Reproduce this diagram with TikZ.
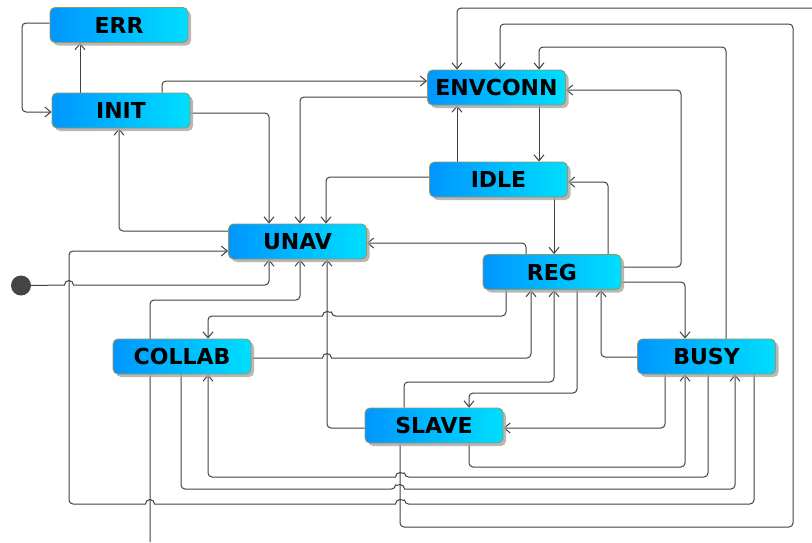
\documentclass[tikz,border=0pt]{standalone}
\usepackage{fontspec}
\setmainfont{DejaVu Sans}
\usetikzlibrary{arrows.meta,shadows,backgrounds}
\definecolor{stateL}{RGB}{0,150,255}
\definecolor{stateR}{RGB}{0,222,255}
\definecolor{stateBorder}{RGB}{155,150,95}
\definecolor{wire}{RGB}{65,65,65}
\definecolor{dotfill}{RGB}{68,68,68}

\begin{document}
\begin{tikzpicture}[x=1pt,y=-1pt,
  state/.style={rectangle, rounded corners=5pt, draw=stateBorder, line width=0.9pt,
    left color=stateL, right color=stateR, minimum width=138pt, minimum height=35pt,
    inner sep=0pt, font=\fontsize{22}{26}\selectfont\bfseries, text=black,
    drop shadow={shadow xshift=3pt, shadow yshift=-3pt, fill=black!35, opacity=0.8}},
  link/.style={draw=wire, line width=1pt, rounded corners=4pt,
    -{Straight Barb[length=6pt,width=10pt]}},
  ]
\useasboundingbox (0,0) rectangle (812,542);

% states
\node[state] (ERR)     at (119,25)    {ERR};
\node[state] (INIT)    at (121,110.5) {INIT};
\node[state] (ENVCONN) at (496.5,87.5) {ENVCONN};
\node[state] (IDLE)    at (498.5,179.5) {IDLE};
\node[state] (UNAV)    at (297.5,241.5) {UNAV};
\node[state] (REG)     at (552,272)   {REG};
\node[state] (COLLAB)  at (182,356.5) {COLLAB};
\node[state] (BUSY)    at (706.5,356.5) {BUSY};
\node[state] (SLAVE)   at (434,425.5) {SLAVE};
\node[circle, fill=dotfill, minimum size=20pt, inner sep=0pt] (start) at (21,285.5) {};

% transitions entering from outside the frame
\coordinate (offR) at (812,8);
\coordinate (offB) at (150,542);

\begin{pgfonlayer}{background}
\draw[link] (ERR.west |- 0,23) -- (22,23) -- (22,112) -- (INIT.west |- 0,112);
\draw[link] (INIT.north -| 80,0) -- (ERR.south -| 80,0);
\draw[link] (INIT.north -| 162,0) |- (ENVCONN.west |- 0,81);
\draw[link] (INIT.east |- 0,113) -| (UNAV.north -| 269,0);
\draw[link] (UNAV.west |- 0,231) -| (INIT.south -| 119,0);
\draw[link] (ENVCONN.west |- 0,97) -| (UNAV.north -| 300,0);
\draw[link] (IDLE.west |- 0,177) -| (UNAV.north -| 326,0);
\draw[link] (ENVCONN.south -| 539,0) -- (IDLE.north -| 539,0);
\draw[link] (IDLE.north -| 457,0) -- (ENVCONN.south -| 457,0);
\draw[link] (IDLE.south -| 554,0) -- (REG.north -| 554,0);
\draw[link] (REG.north -| 526,0) |- (UNAV.east |- 0,243);
\draw[link] (REG.north -| 608,0) |- (IDLE.east |- 0,182);
\draw[link] (REG.east |- 0,267) -- (681,267) -- (681,90) -- (ENVCONN.east |- 0,90);
\draw[link] (REG.east |- 0,282) -| (BUSY.north -| 685,0);
\draw[link] (BUSY.west |- 0,357) -| (REG.south -| 601,0);
\draw[link] (BUSY.north -| 726,0) -- (726,47) -- (539,47) -- (ENVCONN.north -| 539,0);
\draw[link] (SLAVE.south -| 400,0) -- (400,527) -- (793,527) -- (793,24) -- (500,24) -- (ENVCONN.north -| 500,0);
\draw[link] (BUSY.south -| 665,0) |- (SLAVE.east |- 0,428);
\draw[link] (SLAVE.south -| 469,0) -- (469,467) -- (685,467) -- (BUSY.south -| 685,0);
% line hops are drawn with sharp corners so the small arcs keep their shape
\draw[link] (BUSY.south -| 708,0) -- (708,477) -- (404.5,477) [sharp corners]
   arc[start angle=0,end angle=180,radius=4.5pt] [rounded corners=4pt] -- (208,477) -- (COLLAB.south -| 208,0);
\draw[link] (COLLAB.south -| 181,0) -- (181,489) -- (395.5,489) [sharp corners]
   arc[start angle=180,end angle=0,radius=4.5pt] [rounded corners=4pt] -- (735,489) -- (BUSY.south -| 735,0);
\draw[link] (BUSY.south -| 754,0) -- (754,504) -- (404.5,504) [sharp corners]
   arc[start angle=0,end angle=180,radius=4.5pt] -- (154.5,504)
   arc[start angle=0,end angle=180,radius=4.5pt] [rounded corners=4pt] -- (69,504) -- (69,251) -- (UNAV.west |- 0,251);
\draw[link] (REG.south -| 577,0) -- (577,393) -- (469,393) -- (SLAVE.north -| 469,0);
\draw[link] (REG.south -| 506,0) -- (506,316) -- (331.5,316) [sharp corners]
   arc[start angle=0,end angle=180,radius=4.5pt] [rounded corners=4pt] -- (208,316) -- (COLLAB.north -| 208,0);
\draw[link] (COLLAB.east |- 0,358) [sharp corners] -- (322.5,358)
   arc[start angle=180,end angle=0,radius=4.5pt] [rounded corners=4pt] -- (531,358) -- (REG.south -| 531,0);
\draw[link] (SLAVE.north -| 404,0) -- (404,382) -- (554,382) -- (REG.south -| 554,0);
\draw[link] (SLAVE.west |- 0,428) -| (UNAV.south -| 327,0);
\draw[link] (start.east) [sharp corners] -- (64.5,285) arc[start angle=180,end angle=0,radius=4.5pt]
   [rounded corners=4pt] -- (269,285) -- (UNAV.south -| 269,0);
\draw[link] (offB) -- (150,300) -- (300,300) -- (UNAV.south -| 300,0);
\draw[link] (offR) -- (457,8) -- (ENVCONN.north -| 457,0);
\end{pgfonlayer}
\end{tikzpicture}
\end{document}
